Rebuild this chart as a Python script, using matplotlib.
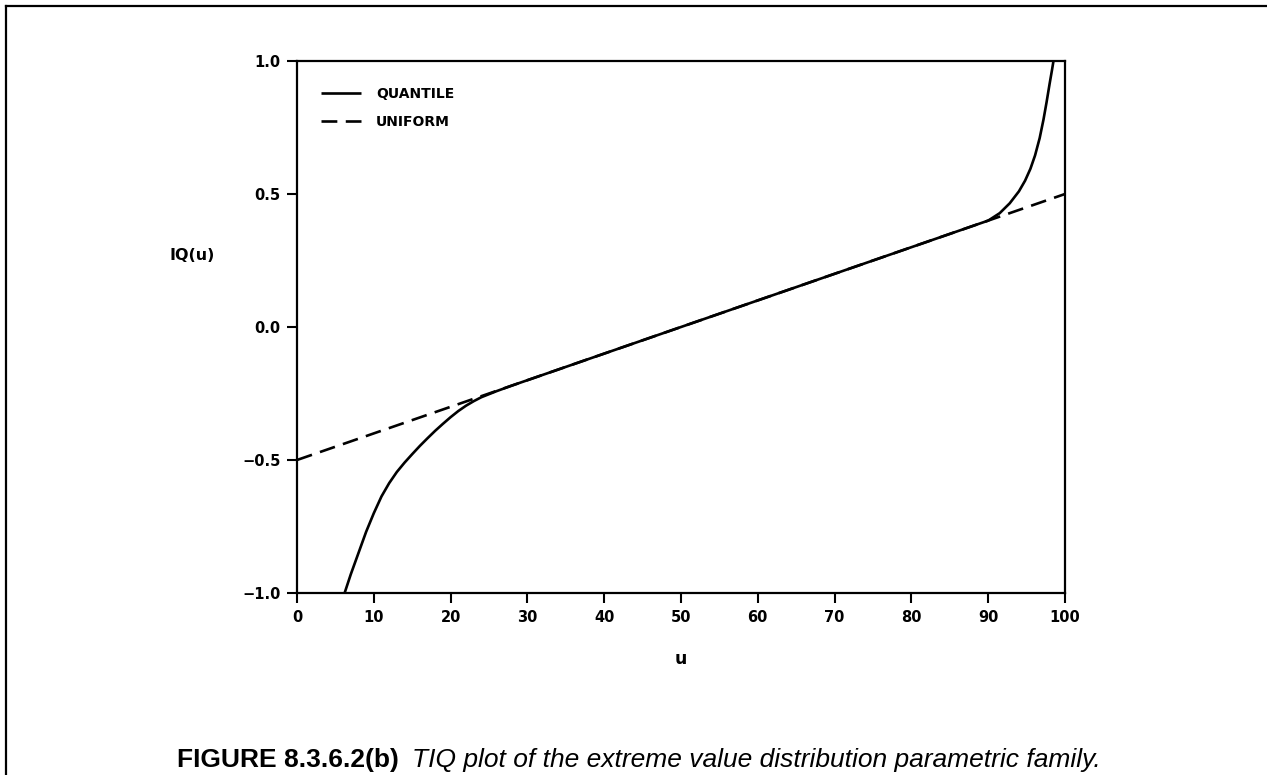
import numpy as np
import matplotlib
matplotlib.use("Agg")
import matplotlib.pyplot as plt
from matplotlib.lines import Line2D

# --- datos ---
u_quantile = [6.2, 7.0, 8.0, 9.0, 10.0, 11.0, 12.0, 13.0, 14.0, 15.0, 16.0,
              17.0, 18.0, 19.0, 20.0, 21.0, 22.0, 23.0, 24.0, 26.0, 28.0,
              40.0, 50.0, 60.0, 70.0, 80.0, 88.0, 90.0, 91.5, 92.8, 94.0,
              94.8, 95.5, 96.1, 96.7, 97.2, 97.6, 98.0, 98.3, 98.5]
iq_quantile = [-1.0, -0.93, -0.85, -0.77, -0.70, -0.637, -0.587, -0.545, -0.51,
               -0.478, -0.447, -0.418, -0.39, -0.364, -0.339, -0.316, -0.296,
               -0.279, -0.264, -0.241, -0.22, -0.10, 0.0, 0.10, 0.20, 0.30,
               0.38, 0.40, 0.428, 0.465, 0.51, 0.55, 0.595, 0.645, 0.71,
               0.78, 0.845, 0.915, 0.965, 1.0]
u_uniform = [0, 100]
iq_uniform = [-0.5, 0.5]

x_ticks = [0, 10, 20, 30, 40, 50, 60, 70, 80, 90, 100]
y_ticks = [-1.0, -0.5, 0.0, 0.5, 1.0]
y_ticklabels = ["\u22121.0", "\u22120.5", "0.0", "0.5", "1.0"]

W, H = 1267, 775
fig = plt.figure(figsize=(W / 100, H / 100), dpi=100)
ax = fig.add_axes([297 / W, 1 - 593 / H, (1065 - 297) / W, (593 - 61) / H])

ax.plot(u_quantile, iq_quantile, color="black", linewidth=1.9,
        solid_capstyle="butt", solid_joinstyle="round", label="QUANTILE")
ax.plot(u_uniform, iq_uniform, color="black", linewidth=1.9,
        dashes=(6, 3.2), label="UNIFORM")

ax.set_xlim(0, 100)
ax.set_ylim(-1.0, 1.0)
ax.set_xticks(x_ticks)
ax.set_xticklabels([str(t) for t in x_ticks])
ax.set_yticks(y_ticks)
ax.set_yticklabels(y_ticklabels)
ax.tick_params(direction="out", length=7, width=1.5, labelsize=10.5, pad=5)
for lab in ax.get_xticklabels() + ax.get_yticklabels():
    lab.set_fontweight("bold")
for sp in ax.spines.values():
    sp.set_linewidth(1.6)

leg = ax.legend(loc="upper left", bbox_to_anchor=(0.015, 0.975), frameon=False,
                handlelength=2.9, handletextpad=1.05, labelspacing=1.0,
                prop={"weight": "bold", "size": 10})

ax.set_xlabel("u", fontsize=12.5, fontweight="bold", labelpad=18)
fig.text(192 / W, 1 - 256 / H, "IQ(u)", fontsize=11.5, fontweight="bold",
         ha="center", va="center")

# marco parcial de la pagina
fig.add_artist(Line2D([6 / W, 6 / W], [0, 1 - 6 / H], color="black", linewidth=1.6,
                      transform=fig.transFigure))
fig.add_artist(Line2D([6 / W, 1], [1 - 6 / H, 1 - 6 / H], color="black", linewidth=1.6,
                      transform=fig.transFigure))

# pie de figura: parte en negrita + parte en cursiva
cap_y = 1 - 760 / H
t1 = fig.text(177 / W, cap_y, "FIGURE 8.3.6.2(b)", family="Liberation Sans",
              fontweight="bold", fontsize=19, va="center", ha="left")
fig.canvas.draw()
bb = t1.get_window_extent()
fig.text((bb.x1 + 13) / W, cap_y,
         "TIQ plot of the extreme value distribution parametric family.",
         family="Liberation Sans", style="italic", fontsize=19,
         va="center", ha="left")

plt.savefig("out.png", dpi=100)
